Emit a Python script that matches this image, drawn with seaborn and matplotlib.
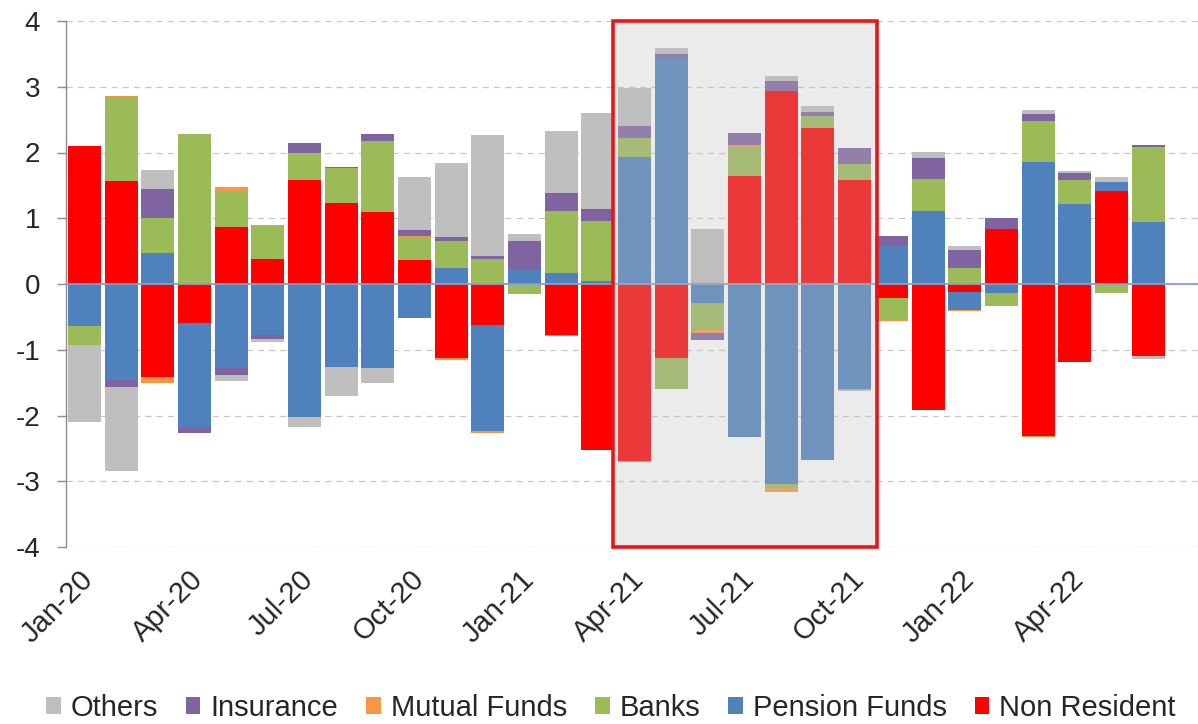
import numpy as np
import pandas as pd
import matplotlib
matplotlib.use("Agg")
import matplotlib.pyplot as plt
import matplotlib.transforms as mtransforms
from matplotlib.patches import Patch, Rectangle
import seaborn as sns

months = ["Jan-20", "Feb-20", "Mar-20", "Apr-20", "May-20", "Jun-20", "Jul-20", "Aug-20",
          "Sep-20", "Oct-20", "Nov-20", "Dec-20", "Jan-21", "Feb-21", "Mar-21", "Apr-21",
          "May-21", "Jun-21", "Jul-21", "Aug-21", "Sep-21", "Oct-21", "Nov-21", "Dec-21",
          "Jan-22", "Feb-22", "Mar-22", "Apr-22", "May-22", "Jun-22"]

non_resident = [2.10, 1.56, -1.41, -0.60, 0.87, 0.38, 1.58, 1.23, 1.09, 0.36, -1.13, -0.63, 0.02, -0.78, -2.53,
                -2.69, -1.13, 0.02, 1.65, 2.93, 2.38, 1.58, -0.21, -1.92, -0.12, 0.83, -2.31, -1.18, 1.42, -1.10]
pension_funds = [-0.64, -1.46, 0.47, -1.57, -1.27, -0.78, -2.02, -1.26, -1.28, -0.52, 0.24, -1.61, 0.20, 0.17, 0.04,
                 1.93, 3.43, -0.29, -2.33, -3.04, -2.68, -1.59, 0.58, 1.11, -0.27, -0.14, 1.86, 1.22, 0.13, 0.95]
banks = [-0.29, 1.28, 0.53, 2.28, 0.54, 0.50, 0.39, 0.53, 1.08, 0.35, 0.42, 0.38, -0.15, 0.94, 0.92,
         0.29, -0.46, -0.41, 0.43, -0.07, 0.17, 0.24, -0.33, 0.49, 0.25, -0.19, 0.62, 0.36, -0.14, 1.14]
mutual_funds = [0.0, 0.02, -0.09, 0.0, 0.06, 0.02, 0.02, 0.0, 0.0, 0.02, -0.02, -0.02, 0.0, -0.01, 0.0,
                -0.01, 0.0, -0.04, 0.03, -0.05, 0.0, -0.02, -0.02, 0.0, -0.02, 0.0, -0.01, -0.01, 0.0, 0.0]
insurance = [0.0, -0.11, 0.45, -0.09, -0.11, -0.05, 0.15, 0.02, 0.11, 0.09, 0.05, 0.04, 0.44, 0.27, 0.18,
             0.18, 0.07, -0.11, 0.19, 0.16, 0.07, 0.25, 0.15, 0.31, 0.26, 0.18, 0.10, 0.11, 0.0, 0.02]
others = [-1.17, -1.28, 0.28, 0.0, -0.10, -0.05, -0.15, -0.44, -0.22, 0.80, 1.13, 1.85, 0.10, 0.95, 1.46,
          0.58, 0.09, 0.82, 0.0, 0.08, 0.08, -0.02, 0.0, 0.10, 0.07, 0.0, 0.06, 0.03, 0.07, -0.04]

series_names = ["Non Resident", "Pension Funds", "Banks", "Mutual Funds", "Insurance", "Others"]
series_colors = ["#FF0000", "#4F81BD", "#9BBB59", "#F79646", "#8064A2", "#BFBFBF"]
series_values = [non_resident, pension_funds, banks, mutual_funds, insurance, others]
legend_order = ["Others", "Insurance", "Mutual Funds", "Banks", "Pension Funds", "Non Resident"]

tick_labels = ["Jan-20", "Apr-20", "Jul-20", "Oct-20", "Jan-21", "Apr-21", "Jul-21", "Oct-21", "Jan-22", "Apr-22"]
highlight_start, highlight_end = "Apr-21", "Oct-21"

sns.set_style("white")
plt.rcParams["font.family"] = ["Liberation Sans", "DejaVu Sans"]

W, H = 1198, 724
fig = plt.figure(figsize=(W / 100, H / 100), dpi=100)
ax = fig.add_axes([66 / W, 177 / H, 1 - 66 / W, (547 - 21) / H])

n = len(months)
pos_base = np.zeros(n)
neg_base = np.zeros(n)
for name, vals, col in zip(series_names, series_values, series_colors):
    v = np.asarray(vals, dtype=float)
    bottom = np.where(v >= 0, pos_base, neg_base)
    df = pd.DataFrame({"month": months, "value": v})
    sns.barplot(data=df, x="month", y="value", order=months, color=col, saturation=1,
                width=0.9, errorbar=None, bottom=bottom, linewidth=0, zorder=2, ax=ax)
    pos_base += np.clip(v, 0, None)
    neg_base += np.clip(v, None, 0)

ax.set_xlim(-0.5, 30.36)
ax.set_ylim(-4, 4)
ax.set_xlabel("")
ax.set_ylabel("")
ax.set_yticks(range(-4, 5))
ax.set_yticklabels([str(t) for t in range(-4, 5)])
ax.yaxis.grid(True, color="#C8C8C8", linestyle=(0, (5, 4)), linewidth=0.9)
ax.xaxis.grid(False)
ax.set_axisbelow(True)
for s in ["top", "right"]:
    ax.spines[s].set_visible(False)
ax.spines["left"].set_color("#8C8C8C")
ax.spines["left"].set_linewidth(1.0)
ax.spines["bottom"].set_position(("data", 0))
ax.spines["bottom"].set_color("#86A2C9")
ax.spines["bottom"].set_linewidth(1.3)
ax.spines["bottom"].set_zorder(2.5)

ax.set_xticks(np.arange(0.5, n, 1.0))
ax.set_xticklabels([])
ax.tick_params(axis="x", length=5, color="#8C8C8C", direction="out", width=1)
ax.tick_params(axis="y", length=6.5, color="#8C8C8C", width=1, labelsize=20, pad=12, left=True)

sec = ax.secondary_xaxis("bottom")
tick_pos = [months.index(t) for t in tick_labels]
sec.set_xticks(tick_pos, labels=tick_labels)
sec.tick_params(length=0, labelsize=21, pad=13)
sec.spines["bottom"].set_visible(False)
offset = mtransforms.ScaledTranslation(-5 / 100, 0, fig.dpi_scale_trans)
for lbl in sec.get_xticklabels():
    lbl.set_rotation(45)
    lbl.set_ha("right")
    lbl.set_va("top")
    lbl.set_rotation_mode("anchor")
    lbl.set_transform(lbl.get_transform() + offset)

x0 = months.index(highlight_start) - 0.58
x1 = months.index(highlight_end) + 0.61
ax.add_patch(Rectangle((x0, -4), x1 - x0, 8, facecolor=(0.745, 0.745, 0.745, 0.3),
                       edgecolor="#E8161B", linewidth=2.6, zorder=3, clip_on=False))

color_map = dict(zip(series_names, series_colors))
handles = [Patch(facecolor=color_map[nm], edgecolor="none", label=nm) for nm in legend_order]
fig.legend(handles=handles, labels=legend_order, loc="center", bbox_to_anchor=(611 / W, 16 / H),
           ncol=6, frameon=False, fontsize=21, handlelength=0.5, handleheight=0.5,
           handletextpad=0.35, columnspacing=0.95, borderaxespad=0, borderpad=0)

fig.savefig("out.png", dpi=100)
